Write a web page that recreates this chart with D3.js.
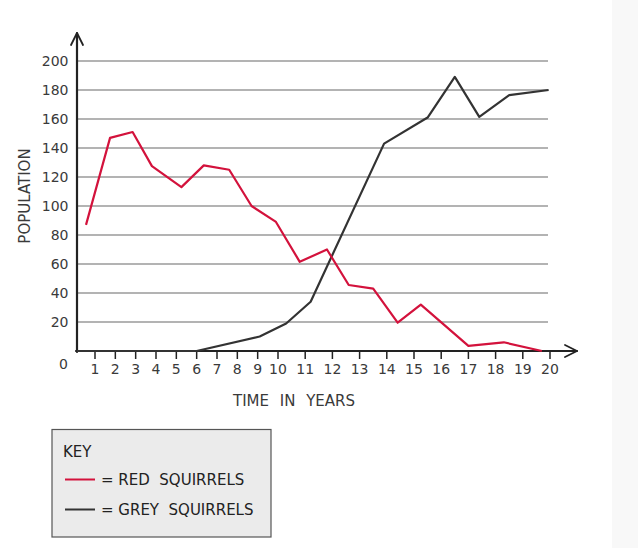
<!DOCTYPE html>
<html>
<head>
<meta charset="utf-8">
<script src="https://cdn.jsdelivr.net/npm/d3@7"></script>
<style>
  html, body { margin: 0; padding: 0; background: #fff; }
  svg { display: block; font-family: "DejaVu Sans", "Open Sans", sans-serif; }
  .pre { white-space: pre; }
</style>
</head>
<body>
<svg id="chart" width="638" height="548"></svg>
<script>
// ---- data ----
const years = d3.range(1, 21);                 // x tick labels 1..20
const popTicks = [0, 20, 40, 60, 80, 100, 120, 140, 160, 180, 200];

const redYears = [0.5, 1.74, 2.85, 3.8, 5.25, 6.35, 7.6, 8.7, 9.9, 10.8, 11.8, 12.6, 13.5, 14.4, 15.25, 17.0, 18.3, 19.7];
const redPop   = [87, 147, 151, 127.5, 113, 128, 125, 100, 89, 61.5, 70, 45.5, 43, 19.5, 32, 3.5, 6, 0];

const greyYears = [0, 6, 9.1, 10.3, 11.2, 13.9, 15.5, 16.5, 17.4, 18.5, 19.95];
const greyPop   = [0, 0, 10, 19, 34, 143, 161, 189, 161.5, 176.5, 180];

const legendLabels = ["= RED  SQUIRRELS", "= GREY  SQUIRRELS"];
const seriesColors = ["#d3123c", "#333333"];

// ---- layout ----
const svg = d3.select("#chart");
const x = d3.scaleLinear().domain([0, 1, 10, 20]).range([77, 95, 278, 550]);
const y = d3.scaleLinear().domain([0, 200]).range([351, 61]);
const textColor = "#3a3a3a";

// right side light panel
svg.append("rect").attr("x", 612).attr("y", 0).attr("width", 26).attr("height", 548).attr("fill", "#f8f8f8");

// grid lines
svg.append("g").selectAll("line")
  .data(popTicks.filter(d => d > 0))
  .join("line")
  .attr("x1", x(0)).attr("x2", x(20) - 2)
  .attr("y1", d => y(d)).attr("y2", d => y(d))
  .attr("stroke", "#9a9a9a").attr("stroke-width", 1.3);

// y tick labels
svg.append("g").selectAll("text")
  .data(popTicks)
  .join("text")
  .attr("x", 68.5)
  .attr("y", d => d === 0 ? y(d) + 13 : y(d))
  .attr("dy", "0.36em")
  .attr("text-anchor", d => d === 0 ? "middle" : "end")
  .attr("dx", d => d === 0 ? -5 : 0)
  .attr("font-size", 14)
  .attr("fill", textColor)
  .text(d => d);

// x ticks + labels
const xt = svg.append("g");
xt.selectAll("line").data(years).join("line")
  .attr("x1", d => x(d)).attr("x2", d => x(d))
  .attr("y1", y(0)).attr("y2", y(0) + 8)
  .attr("stroke", "#222").attr("stroke-width", 1.5);
xt.selectAll("text").data(years).join("text")
  .attr("x", d => x(d)).attr("y", y(0) + 23)
  .attr("text-anchor", "middle")
  .attr("font-size", 14)
  .attr("fill", textColor)
  .text(d => d);

// axes with arrows
const axisG = svg.append("g").attr("stroke", "#222").attr("fill", "none").attr("stroke-linecap", "round").attr("stroke-linejoin", "round");
axisG.append("line").attr("x1", x(0)).attr("x2", x(0)).attr("y1", y(0) + 1).attr("y2", 33).attr("stroke-width", 2.2);
axisG.append("line").attr("x1", x(0) - 1).attr("x2", 577).attr("y1", y(0)).attr("y2", y(0)).attr("stroke-width", 2.2);
axisG.append("path").attr("d", `M${x(0) - 6},${45} L${x(0)},${33} L${x(0) + 6},${45}`).attr("stroke-width", 1.8);
axisG.append("path").attr("d", `M${565},${345} L${577},${y(0)} L${565},${357}`).attr("stroke-width", 1.8);

// axis titles
svg.append("text")
  .attr("x", 294).attr("y", 406)
  .attr("text-anchor", "middle")
  .attr("font-size", 15)
  .attr("word-spacing", 6)
  .attr("fill", textColor)
  .text("TIME IN YEARS");

svg.append("text")
  .attr("transform", "translate(30,196) rotate(-90)")
  .attr("text-anchor", "middle")
  .attr("font-size", 15)
  .attr("fill", textColor)
  .text("POPULATION");

// lines
const line = d3.line().x(d => x(d[0])).y(d => y(d[1]));
const greyData = greyYears.map((v, i) => [v, greyPop[i]]);
const redData = redYears.map((v, i) => [v, redPop[i]]);

svg.append("path").datum(greyData).attr("d", line)
  .attr("fill", "none").attr("stroke", seriesColors[1]).attr("stroke-width", 2.2)
  .attr("stroke-linejoin", "round");
svg.append("path").datum(redData).attr("d", line)
  .attr("fill", "none").attr("stroke", seriesColors[0]).attr("stroke-width", 2.2)
  .attr("stroke-linejoin", "round");

// legend
const lg = svg.append("g");
lg.append("rect").attr("x", 52).attr("y", 429.5).attr("width", 219).attr("height", 107.5)
  .attr("fill", "#ebebeb").attr("stroke", "#555").attr("stroke-width", 1.2);
lg.append("text").attr("x", 63).attr("y", 457).attr("font-size", 15).attr("fill", "#222").text("KEY");
legendLabels.forEach((lab, i) => {
  const yy = 479.5 + i * 30;
  lg.append("line").attr("x1", 65).attr("x2", 95).attr("y1", yy).attr("y2", yy)
    .attr("stroke", seriesColors[i]).attr("stroke-width", 2);
  lg.append("text").attr("class", "pre").attr("x", 101).attr("y", yy).attr("dy", "0.36em")
    .attr("font-size", 15).attr("fill", "#222")
    .text(lab);
});
</script>
</body>
</html>
